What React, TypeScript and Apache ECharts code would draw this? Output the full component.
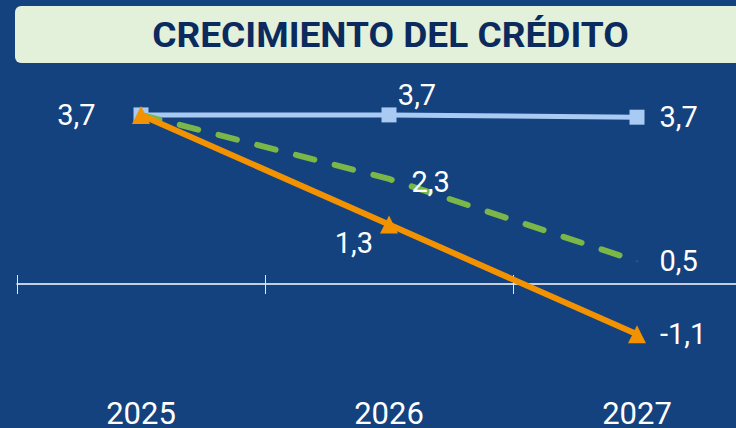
import React, { useEffect, useRef } from "react";
import * as echarts from "echarts";

const categories = ["2025", "2026", "2027"];
const serieA = [3.7, 3.7, 3.65]; // light blue, squares
const serieB = [3.7, 2.3, 0.5]; // green dashed
const serieC = [3.7, 1.3, -1.1]; // orange triangles
const labelsA = ["3,7", "3,7", "3,7"];
const labelsB = ["", "2,3", "0,5"];
const labelsC = ["", "1,3", "-1,1"];
const title = "CRECIMIENTO DEL CRÉDITO";

const BG = "#13427f";
const FONT = "Roboto, 'Noto Sans', sans-serif";

export default function App() {
  const ref = useRef<HTMLDivElement>(null);
  useEffect(() => {
    if (!ref.current) return;
    const chart = echarts.init(ref.current, null, { renderer: "svg" });
    const baseLabel = { color: "#ffffff", fontFamily: FONT, fontSize: 29 };
    const mk = (vals: number[], labs: string[], pos: any[]) =>
      vals.map((v, i) => ({
        value: v,
        label: labs[i]
          ? { show: true, ...baseLabel, formatter: labs[i], ...pos[i] }
          : { show: false },
      }));
    const option: any = {
      animation: false,
      backgroundColor: BG,
      graphic: [
        {
          type: "rect",
          shape: { x: 15, y: 6, width: 760, height: 57, r: 6 },
          style: { fill: "#e3f0da" },
          z: 0,
        },
        {
          type: "text",
          x: 390.5,
          y: 35,
          scaleX: 1.06,
          style: {
            text: title,
            fill: "#0b2a5e",
            fontFamily: FONT,
            fontWeight: "bold",
            fontSize: 35,
            textAlign: "center",
            textVerticalAlign: "middle",
          },
          z: 1,
        },
      ],
      grid: { left: 17, width: 744, top: 55.5, height: 342.75, outerBoundsMode: "none", containLabel: false },
      xAxis: [
        {
          type: "category",
          data: categories,
          boundaryGap: true,
          position: "bottom",
          axisLine: { show: false, onZero: false },
          axisTick: { show: false },
          axisLabel: { color: "#ffffff", fontFamily: FONT, fontSize: 31, margin: 0 },
        },
        {
          type: "category",
          data: categories,
          boundaryGap: true,
          position: "bottom",
          axisLine: { show: true, onZero: true, onZeroAxisIndex: 0, lineStyle: { color: "#ffffff", width: 1.5 } },
          axisTick: { show: true, inside: false, length: 10, lineStyle: { color: "#e6e6e6", width: 1 } },
          axisLabel: { show: false },
        },
        {
          type: "category",
          data: categories,
          boundaryGap: true,
          position: "bottom",
          axisLine: { show: false, onZero: true, onZeroAxisIndex: 0 },
          axisTick: { show: true, inside: true, length: 9, lineStyle: { color: "#e6e6e6", width: 1 } },
          axisLabel: { show: false },
        },
      ],
      yAxis: {
        type: "value",
        min: -2.5,
        max: 5,
        show: false,
        splitLine: { show: false },
      },
      series: [
        {
          type: "line",
          xAxisIndex: 0,
          data: mk(serieA, labelsA, [
            { position: "left", distance: 38 },
            { position: "top", offset: [28, 2], distance: 0 },
            { position: "right", distance: 15 },
          ]),
          color: "#a9caf2",
          lineStyle: { width: 5, color: "#a9caf2" },
          symbol: "rect",
          symbolSize: 15,
          itemStyle: { color: "#a9caf2" },
          z: 2,
        },
        {
          type: "line",
          xAxisIndex: 0,
          data: mk(serieB, labelsB, [
            {},
            { position: "right", offset: [0, 3], distance: 22 },
            { position: "right", distance: 22 },
          ]),
          color: "#7ab648",
          lineStyle: { width: 6, color: "#7ab648", type: [19, 21], cap: "round" },
          symbol: "circle",
          symbolSize: 1,
          itemStyle: { color: "#7ab648" },
          z: 3,
        },
        {
          type: "line",
          xAxisIndex: 0,
          data: mk(serieC, labelsC, [
            {},
            { position: "left", offset: [0, 18], distance: 7 },
            { position: "right", distance: 14 },
          ]),
          color: "#f39200",
          lineStyle: { width: 6, color: "#f39200" },
          symbol: "triangle",
          symbolSize: 18,
          itemStyle: { color: "#f39200" },
          z: 4,
        },
      ],
    };
    chart.setOption(option);
    return () => chart.dispose();
  }, []);
  return <div ref={ref} style={{ width: 736, height: 428, position: "absolute", left: 0, top: 0 }} />;
}
